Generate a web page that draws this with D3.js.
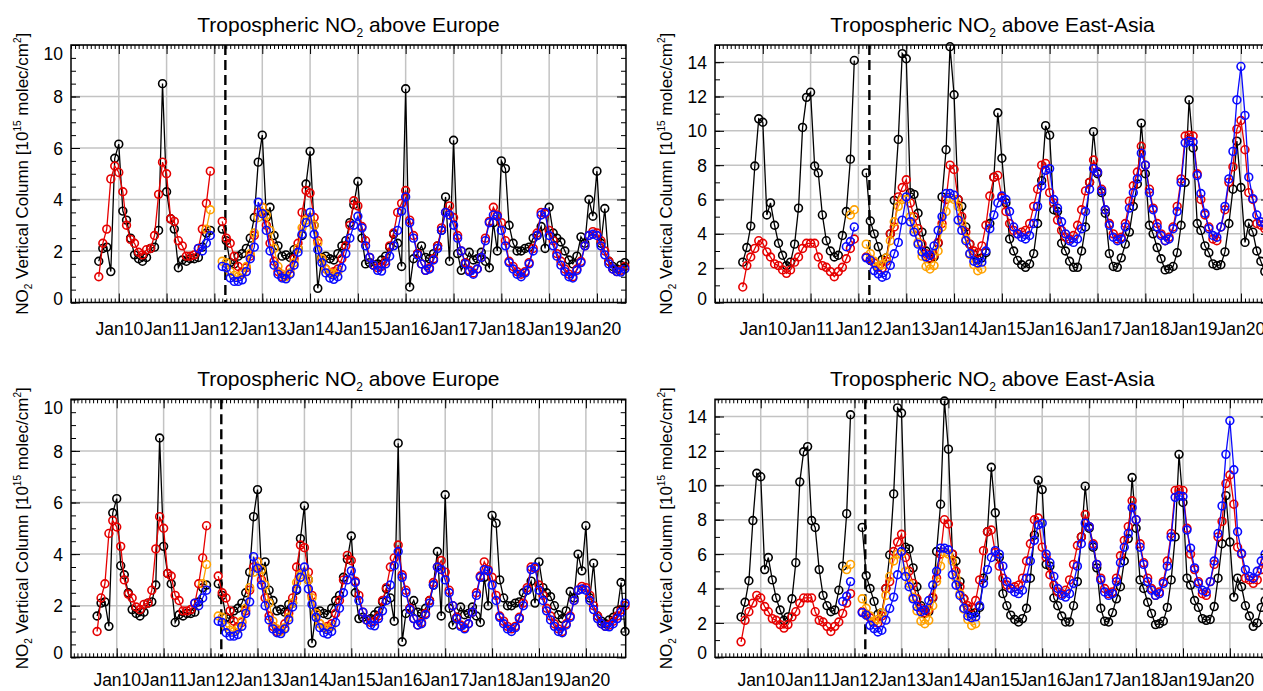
<!DOCTYPE html>
<html>
<head>
<meta charset="utf-8">
<script src="https://cdn.jsdelivr.net/npm/d3@7"></script>
<style>
  body { margin: 0; background: #fff; }
  svg text { font-family: "Liberation Sans", Arial, Helvetica, sans-serif; fill: #000; }
</style>
</head>
<body>
<script>
"use strict";

let width = 1263;
let height = 691;

// ---- data: monthly mean tropospheric NO2 columns [1e15 molec/cm2] ----
// black + red: Aug 2009 .. Nov 2020 (Jan/Feb 2012 missing)
const euBlack = [
  1.6, 2.1, 2.15, 1.2, 5.6,
  6.15, 3.55, 3.2, 2.5, 1.85, 1.7, 1.6, 1.75, 2.1, 2.15, 2.8, 8.5,
  4.3, 3.25, 2.85, 1.35, 1.65, 1.6, 1.7, 1.7, 1.75, 2.15, 2.7, 2.8,
  null, null, 2.85, 2.4, 1.55, 1.5, 1.8, 1.9, 2.1, 2.5, 3.3, 5.45,
  6.5, 3.3, 3.7, 2.6, 2.2, 1.8, 1.85, 1.75, 2.05, 2.1, 2.6, 4.6,
  5.87, 3.0, 0.55, 1.75, 1.8, 1.7, 1.65, 1.9, 2.2, 2.4, 3.1, 3.8,
  4.7, 2.5, 1.5, 1.55, 1.45, 1.5, 1.65, 1.8, 2.15, 2.65, 2.3, 1.4,
  8.3, 0.6, 1.7, 1.9, 2.2, 1.75, 1.7, 1.9, 2.2, 2.8, 4.1, 1.6,
  6.3, 1.9, 1.25, 1.55, 1.95, 1.65, 1.7, 1.95, 1.6, 1.35, 3.1, 2.0,
  5.5, 5.2, 3.0, 2.3, 2.0, 2.0, 2.1, 2.15, 2.5, 2.6, 2.95, 2.1,
  3.7, 2.7, 2.5, 2.35, 2.0, 1.65, 1.5, 1.8, 2.55, 2.3, 4.0, 3.35,
  5.1, 2.3, 3.65, 1.6, 1.4, 1.3, 1.45, 1.55, 1.8, 2.9, 1.0
];
const euRed = [
  1.0, 2.3, 2.85, 4.8, 5.3,
  5.05, 4.3, 3.0, 2.45, 2.3, 1.95, 1.85, 2.05, 2.1, 2.6, 4.2, 5.45,
  5.0, 3.25, 3.15, 2.4, 2.2, 1.8, 1.8, 1.85, 2.1, 2.85, 3.85, 5.1,
  null, null, 3.15, 2.5, 2.3, 1.8, 1.4, 1.2, 1.35, 1.8, 2.6, 3.5,
  3.7, 3.0, 2.3, 1.6, 1.2, 1.0, 1.05, 1.3, 1.7, 2.3, 3.5, 4.35,
  4.25, 3.3, 2.4, 1.7, 1.3, 1.15, 1.2, 1.3, 1.7, 2.2, 3.0, 3.95,
  3.75, 2.95, 2.4, 1.75, 1.45, 1.35, 1.4, 1.6, 2.2, 2.7, 3.5, 3.85,
  4.35, 3.2, 2.6, 1.9, 1.5, 1.25, 1.35, 1.7, 2.2, 2.9, 3.5, 3.75,
  3.3, 2.6, 2.0, 1.55, 1.25, 1.15, 1.3, 1.75, 2.5, 3.15, 3.7, 3.4,
  3.1, 2.4, 1.6, 1.4, 1.2, 1.1, 1.2, 1.55, 2.1, 2.7, 3.5, 3.45,
  2.8, 2.4, 1.9, 1.6, 1.3, 1.1, 1.0, 1.3, 1.6, 2.2, 2.6, 2.75,
  2.7, 2.4, 2.0, 1.6, 1.3, 1.2, 1.25, 1.4, 1.6, 1.85, 2.0
];
// orange: Nov 2011 .. Aug 2014
const euOrange = [
  2.85, 3.6,
  null, null, 1.6, 1.55, 1.2, 1.05, 1.0, 1.1, 1.4, 1.9, 2.7, 3.3,
  3.7, 3.4, 2.8, 2.1, 1.4, 1.1, 1.0, 1.15, 1.55, 2.1, 2.9, 3.2,
  3.3, 3.0, 2.3, 1.7, 1.3, 1.15, 1.1, 1.2
];
// blue: Sep 2011 .. Nov 2020
const euBlue = [
  2.1, 2.0, 2.3, 2.6,
  null, null, 1.4, 1.35, 0.95, 0.82, 0.82, 0.88, 1.2, 1.7, 2.15, 3.9,
  3.45, 2.8, 2.0, 1.45, 1.1, 0.95, 0.92, 1.1, 1.45, 1.95, 2.65, 3.1,
  3.5, 2.65, 2.05, 1.55, 1.15, 0.95, 0.9, 1.0, 1.35, 1.9, 2.5, 3.0,
  3.35, 2.9, 2.2, 1.75, 1.45, 1.25, 1.22, 1.5, 1.8, 2.2, 2.8, 3.55,
  4.1, 3.1, 2.5, 1.85, 1.5, 1.25, 1.3, 1.65, 2.1, 2.8, 3.5, 3.4,
  3.0, 2.5, 2.0, 1.5, 1.2, 1.1, 1.3, 1.75, 2.4, 3.1, 3.4, 3.35,
  2.8, 2.2, 1.55, 1.3, 1.1, 1.0, 1.15, 1.5, 2.0, 2.6, 3.4, 3.5,
  2.6, 2.2, 1.8, 1.45, 1.2, 1.0, 0.95, 1.25, 1.55, 2.2, 2.6, 2.65,
  2.6, 2.2, 1.85, 1.5, 1.3, 1.2, 1.18, 1.3, 1.5, 1.75, 2.1
];

const eaBlack = [
  2.35, 3.2, 4.45, 7.95, 10.7,
  10.5, 5.1, 5.8, 4.5, 3.45, 2.75, 2.15, 2.35, 3.4, 5.5, 10.2, 11.95,
  12.25, 7.95, 7.55, 5.1, 3.6, 3.0, 2.65, 2.75, 3.9, 5.3, 8.35, 14.1,
  null, null, 7.55, 4.75, 4.0, 3.25, 2.5, 2.6, 4.0, 5.95, 9.5, 14.5,
  14.2, 6.4, 6.3, 5.2, 4.1, 3.0, 2.55, 2.65, 3.45, 6.15, 8.9, 14.9,
  12.1, 6.0, 5.6, 4.4, 3.4, 2.8, 2.5, 2.6, 2.9, 4.6, 7.3, 11.05,
  8.4, 5.8, 3.7, 3.0, 2.45, 2.2, 2.05, 2.25, 2.85, 4.6, 7.1, 10.3,
  9.75, 5.4, 5.3, 3.45, 3.0, 2.4, 2.05, 2.05, 3.0, 4.4, 7.0, 9.95,
  7.5, 6.4, 5.2, 2.85, 2.1, 2.05, 2.6, 3.4, 4.1, 5.6, 6.9, 10.45,
  7.5, 4.5, 4.0, 3.2, 2.55, 1.9, 1.95, 2.1, 2.9, 4.5, 7.0, 11.8,
  9.0, 4.6, 4.2, 3.3, 2.9, 2.25, 2.15, 2.2, 2.95, 4.6, 6.6, 9.4,
  6.7, 3.5, 4.6, 4.1, 3.0, 2.4, 1.8, 2.0, 2.9, 3.3, 3.6
];
const eaRed = [
  0.9, 2.15, 2.65, 3.15, 3.6,
  3.45, 2.95, 2.65, 2.25, 2.15, 1.9, 1.7, 1.9, 2.35, 2.65, 3.15, 3.45,
  3.45, 3.45, 2.65, 2.15, 2.05, 1.8, 1.5, 1.8, 2.05, 2.55, 3.15, 3.7,
  null, null, 2.65, 2.5, 2.3, 2.05, 2.0, 2.4, 4.0, 4.4, 6.15, 6.7,
  7.15, 5.8, 5.0, 4.3, 3.4, 2.85, 2.6, 2.75, 3.5, 4.6, 6.0, 8.0,
  7.75, 6.0, 5.0, 4.1, 3.4, 3.0, 2.9, 3.3, 4.5, 6.2, 7.3, 7.4,
  6.1, 5.3, 4.6, 4.2, 4.0, 4.1, 4.2, 4.6, 5.6, 6.6, 8.0, 8.1,
  6.4, 5.8, 4.8, 4.2, 3.8, 3.7, 3.9, 4.5, 5.4, 6.5, 7.0, 8.3,
  7.6, 6.6, 5.4, 4.6, 4.0, 3.7, 3.8, 4.6, 5.9, 6.8, 7.6, 9.1,
  8.0, 6.6, 5.5, 4.6, 4.0, 3.6, 3.8, 4.4, 5.6, 7.2, 9.7, 9.75,
  9.7, 7.5, 6.0, 5.1, 4.4, 3.7, 3.6, 4.4, 5.4, 7.0, 7.9, 10.1,
  10.6, 8.9, 6.4, 6.0, 4.6, 4.5, 4.3, 4.5, 5.1, 5.6, 6.0
];
const eaOrange = [
  5.1, 5.4,
  null, null, 3.4, 2.85, 2.4, 2.1, 2.2, 2.6, 3.6, 4.7, 5.6, 6.0,
  6.0, 5.0, 4.3, 3.5, 2.7, 2.1, 1.95, 2.15, 3.0, 4.4, 5.3, 6.1,
  6.0, 5.6, 4.6, 3.7, 2.8, 2.2, 1.85, 1.95
];
const eaBlue = [
  null, 3.25, 3.55, 4.4,
  null, null, 2.6, 2.45, 1.86, 1.67, 1.47, 1.57, 2.16, 2.84, 3.5, 4.8,
  6.15, 4.7, 4.1, 3.4, 2.95, 2.65, 2.75, 3.3, 4.2, 5.0, 6.35, 6.35,
  6.25, 4.8, 4.2, 3.6, 2.85, 2.4, 2.3, 2.35, 3.0, 4.3, 5.1, 5.8,
  6.2, 6.0, 5.3, 4.4, 4.0, 3.8, 3.7, 3.9, 4.6, 5.6, 6.8, 7.7,
  7.8, 6.0, 5.5, 4.7, 4.0, 3.6, 3.5, 3.7, 4.3, 5.3, 6.6, 7.8,
  7.6, 6.5, 5.4, 4.5, 3.8, 3.6, 3.7, 4.4, 5.5, 6.4, 7.2, 8.7,
  8.0, 6.4, 5.4, 4.4, 3.9, 3.6, 3.7, 4.3, 5.3, 7.0, 9.3, 9.4,
  9.35, 7.4, 6.35, 5.2, 4.3, 3.9, 3.8, 4.4, 5.6, 7.2, 8.8, 11.8,
  13.75, 10.9, 7.3, 6.05, 5.1, 4.7, 4.6, 5.0, 5.6, 6.0, 6.4
];

// tick labels
const xTickYears = [2010, 2011, 2012, 2013, 2014, 2015, 2016, 2017, 2018, 2019, 2020];
const euYTicks = [0, 2, 4, 6, 8, 10];
const eaYTicks = [0, 2, 4, 6, 8, 10, 12, 14];

const series = [
  { color: "#000000", start: [2009, 7],  eu: euBlack,  ea: eaBlack },
  { color: "#e60000", start: [2009, 7],  eu: euRed,    ea: eaRed },
  { color: "#ffa200", start: [2011, 10], eu: euOrange, ea: eaOrange },
  { color: "#0a0aff", start: [2011, 8],  eu: euBlue,   ea: eaBlue }
];

const regions = {
  eu: { name: "Europe",    max: 10, ticks: euYTicks, minorStep: 0.5 },
  ea: { name: "East-Asia", max: 15, ticks: eaYTicks, minorStep: 1 }
};

const panels = [
  { region: "eu", left: 71,  top: 45,    w: 555,   h: 257.5, labelPad: 20, from: Date.UTC(2009, 0, 1),  to: Date.UTC(2020, 7, 10), last: Date.UTC(2020, 7, 1) },
  { region: "ea", left: 715, top: 45,    w: 555,   h: 257.5, labelPad: 20, from: Date.UTC(2009, 0, 1),  to: Date.UTC(2020, 7, 10), last: Date.UTC(2020, 7, 1) },
  { region: "eu", left: 71,  top: 399.3, w: 554.7, h: 258,   labelPad: 16.5, from: Date.UTC(2009, 0, 10), to: Date.UTC(2020, 10, 6), last: Date.UTC(2020, 10, 1) },
  { region: "ea", left: 715, top: 399.3, w: 554.7, h: 258,   labelPad: 16.5, from: Date.UTC(2009, 0, 10), to: Date.UTC(2020, 10, 6), last: Date.UTC(2020, 10, 1) }
];

const envisatEnd = Date.UTC(2012, 2, 25);

let svg = d3.select("body").append("svg").attr("width", width).attr("height", height);

panels.forEach(function (p) {
  let reg = regions[p.region];
  let g = svg.append("g").attr("transform", "translate(" + p.left + "," + p.top + ")");

  let x = d3.scaleUtc().domain([p.from, p.to]).range([0, p.w]);
  let y = d3.scaleLinear().domain([0, reg.max]).range([p.h, 0]);

  let yearDates = xTickYears.map(yr => new Date(Date.UTC(yr, 0, 1)));
  let monthDates = d3.utcMonth.range(new Date(p.from), new Date(p.to));
  let minorY = d3.range(0, reg.max + 0.001, reg.minorStep);

  // grid
  g.append("g").selectAll("line").data(yearDates).enter().append("line")
    .attr("x1", d => x(d)).attr("x2", d => x(d))
    .attr("y1", 0).attr("y2", p.h)
    .attr("stroke", "#c3c3c3").attr("stroke-width", 1.5);
  g.append("g").selectAll("line").data(reg.ticks.filter(v => v > 0)).enter().append("line")
    .attr("x1", 0).attr("x2", p.w)
    .attr("y1", d => y(d)).attr("y2", d => y(d))
    .attr("stroke", "#c3c3c3").attr("stroke-width", 1.5);

  // end of first instrument record
  g.append("line")
    .attr("x1", x(envisatEnd)).attr("x2", x(envisatEnd))
    .attr("y1", 0).attr("y2", p.h)
    .attr("stroke", "#000").attr("stroke-width", 2.4)
    .attr("stroke-dasharray", "10,5");

  // series
  series.forEach(function (s) {
    let pts = s[p.region].map(function (v, i) {
      return { date: new Date(Date.UTC(s.start[0], s.start[1] + i, 1)), v: v };
    }).filter(d => d.date.getTime() <= p.last);

    let line = d3.line()
      .defined(d => d.v != null)
      .x(d => x(d.date))
      .y(d => y(d.v));

    g.append("path")
      .datum(pts)
      .attr("d", line)
      .attr("fill", "none")
      .attr("stroke", s.color)
      .attr("stroke-width", 1.3);

    g.append("g").selectAll("circle")
      .data(pts.filter(d => d.v != null))
      .enter()
      .append("circle")
        .attr("cx", d => x(d.date))
        .attr("cy", d => y(d.v))
        .attr("r", 3.9)
        .attr("fill", "none")
        .attr("stroke", s.color)
        .attr("stroke-width", 1.6);
  });

  // frame
  g.append("rect")
    .attr("width", p.w).attr("height", p.h)
    .attr("fill", "none").attr("stroke", "#000").attr("stroke-width", 1.5);

  function clean(sel) {
    sel.select(".domain").remove();
    sel.selectAll(".tick line").attr("stroke", "#000").attr("stroke-width", 1);
    sel.attr("font-family", null).attr("font-size", null);
  }

  // y axes (left with labels, right mirrored)
  g.append("g").call(d3.axisLeft(y).tickValues(minorY).tickSize(-5).tickFormat("")).call(clean);
  let yl = g.append("g").call(d3.axisLeft(y).tickValues(reg.ticks).tickSize(-9).tickPadding(8)).call(clean);
  yl.selectAll("text")
    .style("font-size", "17.5px")
    .attr("dy", "0.35em")
    .attr("y", function (d) {
      let py = y(d);
      if (py < 8) return 8 - py;
      if (py > p.h - 4.5) return p.h - 4.5 - py;
      return 0;
    });
  g.append("g").attr("transform", "translate(" + p.w + ",0)")
    .call(d3.axisRight(y).tickValues(minorY).tickSize(-5).tickFormat("")).call(clean);
  g.append("g").attr("transform", "translate(" + p.w + ",0)")
    .call(d3.axisRight(y).tickValues(reg.ticks).tickSize(-9).tickFormat("")).call(clean);

  // x axes
  g.append("g").attr("transform", "translate(0," + p.h + ")")
    .call(d3.axisBottom(x).tickValues(monthDates).tickSize(-4).tickFormat("")).call(clean);
  let xl = g.append("g").attr("transform", "translate(0," + p.h + ")")
    .call(d3.axisBottom(x).tickValues(yearDates).tickSize(-9).tickPadding(p.labelPad)
      .tickFormat(d => "Jan" + d3.utcFormat("%y")(d)))
    .call(clean);
  xl.selectAll("text").style("font-size", "17.5px");
  g.append("g")
    .call(d3.axisTop(x).tickValues(monthDates).tickSize(-4).tickFormat("")).call(clean);
  g.append("g")
    .call(d3.axisTop(x).tickValues(yearDates).tickSize(-9).tickFormat("")).call(clean);

  // title
  let t = g.append("text")
    .attr("x", p.w / 2).attr("y", -13)
    .attr("text-anchor", "middle")
    .style("font-size", "21px");
  t.append("tspan").text("Tropospheric NO");
  t.append("tspan").attr("dy", 5).style("font-size", "12px").text("2");
  t.append("tspan").attr("dy", -5).text(" above " + reg.name);

  // y label
  let yt = g.append("text")
    .attr("transform", "translate(-49," + (p.h / 2) + ") rotate(-90)")
    .attr("text-anchor", "middle")
    .attr("dy", "0.35em")
    .style("font-size", "17px");
  yt.append("tspan").text("NO");
  yt.append("tspan").attr("dy", 4).style("font-size", "10px").text("2");
  yt.append("tspan").attr("dy", -4).text(" Vertical Column [10");
  yt.append("tspan").attr("dy", -7).style("font-size", "10px").text("15");
  yt.append("tspan").attr("dy", 7).text(" molec/cm");
  yt.append("tspan").attr("dy", -7).style("font-size", "10px").text("2");
  yt.append("tspan").attr("dy", 7).text("]");
});
</script>
</body>
</html>
